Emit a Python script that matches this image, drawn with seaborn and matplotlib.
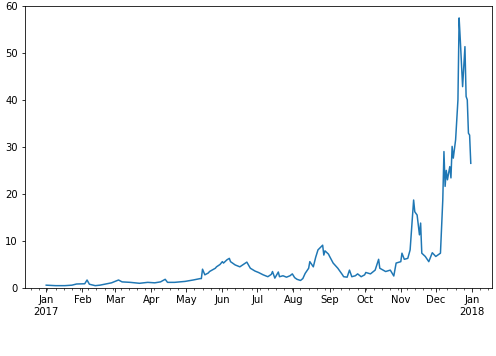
import numpy as np
import pandas as pd
import matplotlib
matplotlib.use("Agg")
import matplotlib.pyplot as plt
import matplotlib.dates as mdates
import seaborn as sns

# day offsets from 2017-01-01 and the corresponding values
day_of_year = [0, 8, 16, 22, 26, 33, 35, 37, 42, 46, 52, 56, 62, 65, 72, 80, 87, 93, 98,
               102, 104, 110, 119, 126, 132, 133, 134, 136, 139, 140, 145, 146, 149, 151,
               152, 155, 157, 158, 162, 166, 169, 172, 175, 179, 182, 186, 190, 193, 194,
               196, 199, 200, 203, 206, 209, 211, 213, 215, 218, 220, 222, 225, 226, 229,
               231, 233, 237, 238, 239, 242, 243, 246, 250, 254, 255, 258, 260, 262, 265,
               267, 270, 273, 274, 278, 282, 285, 286, 291, 295, 298, 300, 304, 305, 307,
               310, 312, 315, 316, 318, 320, 321, 322, 325, 328, 331, 334, 338, 340, 341,
               342, 343, 344, 346, 347, 348, 349, 351, 353, 354, 355, 357, 359, 360, 361,
               362, 363, 364]
values = [0.6, 0.5, 0.5, 0.6, 0.85, 0.9, 1.7, 0.8, 0.5, 0.6, 0.9, 1.1, 1.7, 1.3, 1.2, 1.0,
          1.2, 1.1, 1.3, 1.85, 1.2, 1.2, 1.4, 1.7, 2.0, 2.0, 4.0, 2.8, 3.2, 3.5, 4.2, 4.5,
          5.0, 5.6, 5.3, 6.0, 6.3, 5.6, 4.9, 4.5, 5.0, 5.5, 4.2, 3.6, 3.3, 2.8, 2.4, 2.9,
          3.5, 2.1, 3.4, 2.4, 2.6, 2.3, 2.6, 3.0, 2.2, 1.85, 1.6, 2.0, 3.1, 4.2, 5.6, 4.5,
          6.5, 8.1, 9.1, 7.0, 7.9, 7.2, 6.7, 5.3, 4.2, 2.8, 2.4, 2.3, 3.8, 2.4, 2.6, 3.0,
          2.4, 2.8, 3.3, 3.0, 3.8, 6.1, 4.2, 3.5, 3.8, 2.55, 5.3, 5.6, 7.4, 6.1, 6.3, 8.1,
          18.7, 16.2, 15.5, 11.3, 13.8, 7.4, 6.7, 5.6, 7.5, 6.7, 7.4, 18.7, 29.0, 21.6,
          25.0, 23.0, 25.8, 23.4, 30.1, 27.6, 31.5, 40.0, 57.4, 52.8, 42.8, 51.3, 40.7,
          40.0, 32.9, 32.5, 26.5]
yticks = [0, 10, 20, 30, 40, 50, 60]
month_labels = ["Jan\n2017", "Feb", "Mar", "Apr", "May", "Jun", "Jul", "Aug", "Sep",
                "Oct", "Nov", "Dec", "Jan\n2018"]

dates = pd.Timestamp("2017-01-01") + pd.to_timedelta(day_of_year, unit="D")
df = pd.DataFrame({"date": dates, "value": values})

fig = plt.figure(figsize=(496 / 72, 356 / 72), dpi=72)
ax = fig.add_axes([25 / 496, 1 - 288 / 356, (492 - 25) / 496, (288 - 5.7) / 356])
sns.lineplot(data=df, x="date", y="value", ax=ax, color="#1f77b4", linewidth=1.5)

ax.set_ylim(0, 60)
ax.set_yticks(yticks)
month_starts = pd.date_range("2017-01-01", "2018-01-01", freq="MS")
ax.set_xticks(month_starts)
ax.set_xticklabels(month_labels)
ax.xaxis.set_minor_locator(mdates.WeekdayLocator(byweekday=mdates.MO))
ax.set_xlabel("")
ax.set_ylabel("")
ax.tick_params(labelsize=10)

fig.savefig("out.png", dpi=72)
